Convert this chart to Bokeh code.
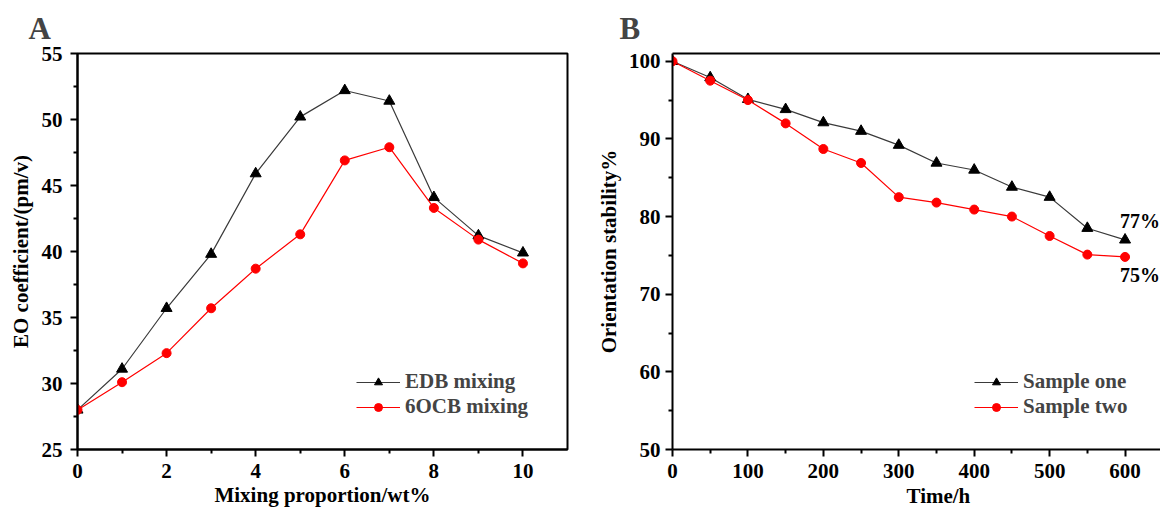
from bokeh.plotting import figure
from bokeh.layouts import row
from bokeh.models import Range1d, FixedTicker, Legend, LegendItem, LinearAxis, Title
from bokeh.embed import file_html
from bokeh.resources import INLINE
from bokeh.core.properties import value

# ---------------- data ----------------
mix_prop = [0, 1, 2, 3, 4, 5, 6, 7, 8, 9, 10]
edb_mixing = [28.0, 31.1, 35.7, 39.8, 45.9, 50.2, 52.2, 51.4, 44.1, 41.2, 39.9]
ocb_mixing = [28.0, 30.1, 32.3, 35.7, 38.7, 41.3, 46.9, 47.9, 43.3, 40.9, 39.1]

time_h = [0, 50, 100, 150, 200, 250, 300, 350, 400, 450, 500, 550, 600]
sample_one = [100.0, 97.9, 95.1, 93.8, 92.1, 91.0, 89.2, 86.9, 86.0, 83.8, 82.5, 78.5, 77.0]
sample_two = [100.0, 97.5, 95.0, 92.0, 88.7, 86.9, 82.5, 81.8, 80.9, 80.0, 77.5, 75.1, 74.8]

end_labels = ["77%", "75%"]

x_ticks_a = [0, 2, 4, 6, 8, 10]
x_minor_a = [1, 3, 5, 7, 9]
y_ticks_a = [25, 30, 35, 40, 45, 50, 55]
y_minor_a = [27.5, 32.5, 37.5, 42.5, 47.5, 52.5]
x_ticks_b = [0, 100, 200, 300, 400, 500, 600]
x_minor_b = [50, 150, 250, 350, 450, 550]
y_ticks_b = [50, 60, 70, 80, 90, 100]
y_minor_b = [55, 65, 75, 85, 95]

FONT = "Liberation Serif"
BLACK_LINE = "#3a3a3a"
RED = "#ff0000"


def style_axis(ax, label_standoff, title_standoff):
    ax.axis_line_width = 2
    ax.axis_line_color = "black"
    ax.major_tick_line_width = 2
    ax.minor_tick_line_width = 2
    ax.major_tick_in = 0
    ax.major_tick_out = 7
    ax.minor_tick_in = 0
    ax.minor_tick_out = 4
    ax.major_label_text_font = FONT
    ax.major_label_text_font_style = "bold"
    ax.major_label_text_font_size = "21px"
    ax.major_label_text_color = "black"
    ax.major_label_standoff = label_standoff
    ax.axis_label_text_font = FONT
    ax.axis_label_text_font_style = "bold"
    ax.axis_label_text_font_size = "21px"
    ax.axis_label_text_color = "black"
    ax.axis_label_standoff = title_standoff


def make_fig(width, left, right, xr, yr, letter, letter_offset):
    p = figure(width=width, height=509, x_range=Range1d(*xr), y_range=Range1d(*yr),
               output_backend="svg", toolbar_location=None,
               min_border_left=left, min_border_right=right,
               min_border_top=52, min_border_bottom=58)
    p.xgrid.visible = False
    p.ygrid.visible = False
    p.background_fill_color = "white"
    p.border_fill_color = "white"
    p.title.text = letter
    p.title.text_font = FONT
    p.title.text_font_style = "bold"
    p.title.text_font_size = "31px"
    p.title.align = "left"
    p.title.offset = letter_offset
    p.title.standoff = 16
    return p


# ---------------- panel A ----------------
pa = make_fig(593, 77, 26, (0, 11), (25, 55), "A", -49)
pa.outline_line_color = "black"
pa.outline_line_width = 2
pa.xaxis.ticker = FixedTicker(ticks=x_ticks_a, minor_ticks=x_minor_a)
pa.yaxis.ticker = FixedTicker(ticks=y_ticks_a, minor_ticks=y_minor_a)
pa.xaxis.axis_label = "Mixing proportion/wt%"
pa.yaxis.axis_label = "EO coefficient/(pm/v)"
style_axis(pa.xaxis[0], 7, 2)
style_axis(pa.yaxis[0], 8, 6)

la1 = pa.line(mix_prop, edb_mixing, line_color=BLACK_LINE, line_width=1.2)
ma1 = pa.scatter(mix_prop, edb_mixing, marker="triangle", size=11, fill_color="black", line_color="black")
la2 = pa.line(mix_prop, ocb_mixing, line_color=RED, line_width=1.2)
ma2 = pa.scatter(mix_prop, ocb_mixing, marker="circle", size=9, fill_color=RED, line_color=RED)

leg_a = Legend(items=[LegendItem(label="EDB mixing", renderers=[la1, ma1]),
                      LegendItem(label="6OCB mixing", renderers=[la2, ma2])],
               location=(279, 30), padding=0, margin=0, spacing=0,
               glyph_width=44, glyph_height=20, label_standoff=5,
               label_text_font=FONT, label_text_font_style="bold", label_text_font_size="21px",
               border_line_color=None, background_fill_alpha=0)
pa.add_layout(leg_a, "center")

# ---------------- panel B ----------------
pb = make_fig(567, 79, 0, (0, 647), (50, 101), "B", -53)
pb.outline_line_color = None
top_axis = LinearAxis(ticker=FixedTicker(ticks=[]), major_label_text_font_size="0px",
                      axis_line_width=2, axis_line_color="black", major_tick_out=0, minor_tick_out=0)
pb.add_layout(top_axis, "above")
pb.below[0].ticker = FixedTicker(ticks=x_ticks_b, minor_ticks=x_minor_b)
pb.yaxis.ticker = FixedTicker(ticks=y_ticks_b, minor_ticks=y_minor_b)
pb.yaxis.axis_label = "Orientation stability%"
style_axis(pb.below[0], 7, 2)
style_axis(pb.yaxis[0], 5, 5)

# x-axis title of panel B sits right of the frame centre in the reference
pb.add_layout(Title(text="Time/h", align="left", offset=234, standoff=2,
                    text_font=FONT, text_font_style="bold", text_font_size="21px",
                    text_color="black"), "below")

lb1 = pb.line(time_h, sample_one, line_color=BLACK_LINE, line_width=1.2)
mb1 = pb.scatter(time_h, sample_one, marker="triangle", size=11, fill_color="black", line_color="black")
lb2 = pb.line(time_h, sample_two, line_color=RED, line_width=1.2)
mb2 = pb.scatter(time_h, sample_two, marker="circle", size=9, fill_color=RED, line_color=RED)

pb.text(x=[time_h[-1], time_h[-1]], y=[sample_one[-1], sample_two[-1]], text=end_labels,
        x_offset=15, y_offset=[-19, 18], text_align="center", text_baseline="middle",
        text_font=value(FONT), text_font_style="bold", text_font_size="20px", text_color="black")

leg_b = Legend(items=[LegendItem(label="Sample one", renderers=[lb1, mb1]),
                      LegendItem(label="Sample two", renderers=[lb2, mb2])],
               location=(302, 30), padding=0, margin=0, spacing=0,
               glyph_width=44, glyph_height=20, label_standoff=5,
               label_text_font=FONT, label_text_font_style="bold", label_text_font_size="21px",
               border_line_color=None, background_fill_alpha=0)
pb.add_layout(leg_b, "center")

layout = row(pa, pb)
open("out.html", "w").write(file_html(layout, INLINE))
